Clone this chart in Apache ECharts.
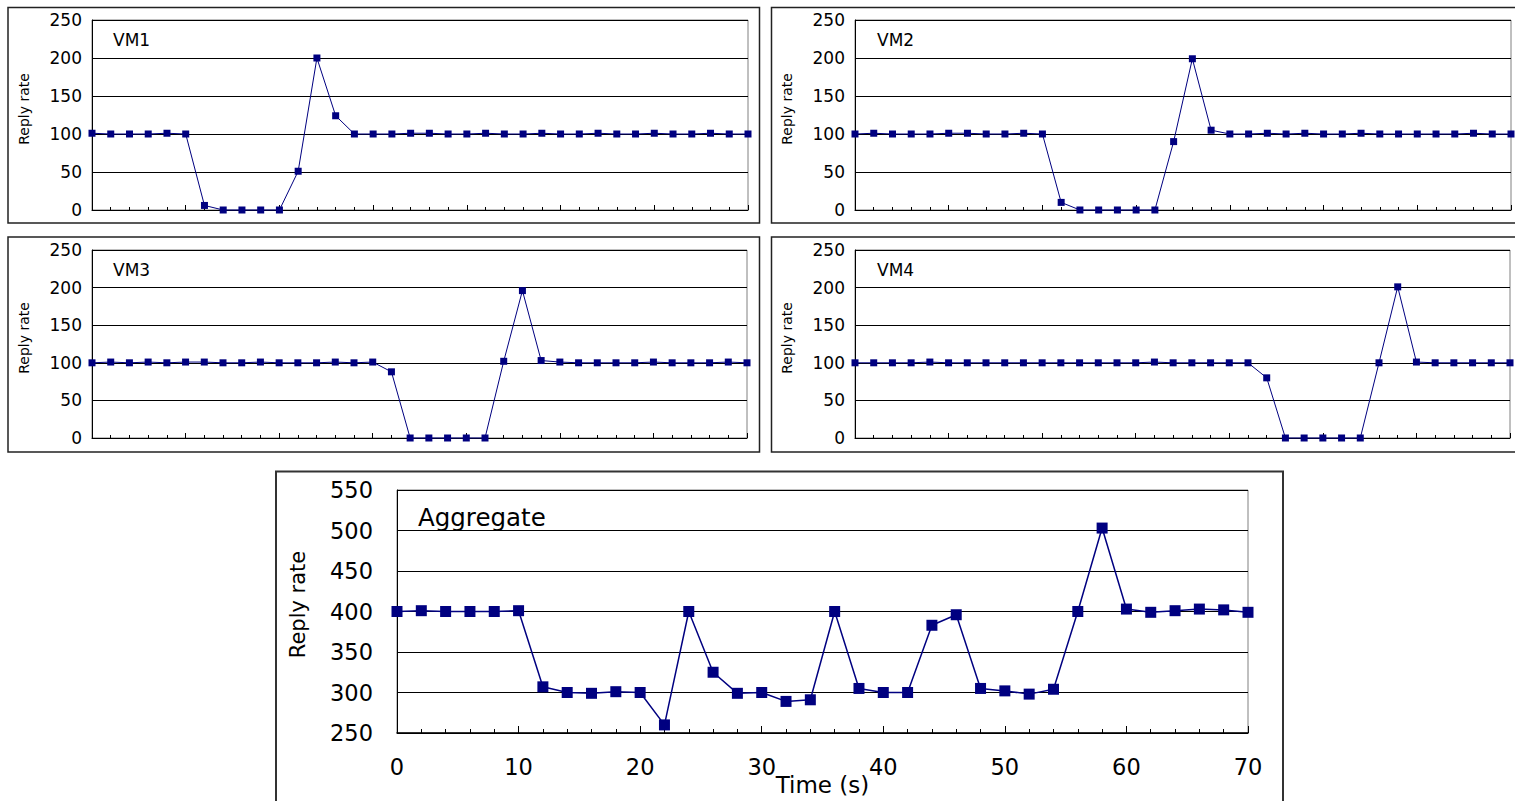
<!DOCTYPE html>
<html>
<head>
<meta charset="utf-8">
<script src="https://cdn.jsdelivr.net/npm/echarts@6/dist/echarts.min.js"></script>
<style>
html,body{margin:0;padding:0;background:#fff;}
#chart{width:1515px;height:801px;}
</style>
</head>
<body>
<div id="chart"></div>
<script>
// ---- data ----
const timeSec = [0,2,4,6,8,10,12,14,16,18,20,22,24,26,28,30,32,34,36,38,40,42,44,46,48,50,52,54,56,58,60,62,64,66,68,70];
const vm1 = [101,100,100,100,101,100,6,0,0,0,0,51,200,124,100,100,100,101,101,100,100,101,100,100,101,100,100,101,100,100,101,100,100,101,100,100];
const vm2 = [100,101,100,100,100,101,101,100,100,101,100,10,0,0,0,0,0,90,199,105,100,100,101,100,101,100,100,101,100,100,100,100,100,101,100,100];
const vm3 = [100,101,100,101,100,101,101,100,100,101,100,100,100,101,100,101,88,0,0,0,0,0,102,196,103,101,100,100,100,100,101,100,100,100,101,100];
const vm4 = [100,100,100,100,101,100,100,100,100,100,100,100,100,100,100,100,101,100,100,100,100,100,80,0,0,0,0,0,100,201,101,100,100,100,100,100];
const aggregate = [400,401,400,400,400,401,307,300,299,301,300,260,400,325,299,300,289,291,400,305,300,300,383,396,305,302,298,304,400,503,403,399,401,403,402,399];
const panelNames = ['VM1','VM2','VM3','VM4'];
const aggregateName = 'Aggregate';
const yAxisTitle = 'Reply rate';
const xAxisTitle = 'Time (s)';
const vmYTicks = [0,50,100,150,200,250];
const aggYTicks = [250,300,350,400,450,500,550];
const xTicks = [0,10,20,30,40,50,60,70];

const chart = echarts.init(document.getElementById('chart'), null, {renderer:'svg'});
const navy = '#000080';
const FONT = 'DejaVu Sans, Verdana, sans-serif';

const vmGrids = [
  {left:92, top:20, width:656, height:190},
  {left:855, top:20, width:656, height:190},
  {left:92, top:250, width:655, height:188},
  {left:855, top:250, width:655, height:188}
];
const aggGrid = {left:397, top:490, width:851, height:243};

const grids = vmGrids.concat([aggGrid]).map(g => Object.assign({show:true, borderColor:'#808080', borderWidth:1, backgroundColor:'transparent', outerBoundsMode:'none'}, g));

const xAxes = [], yAxes = [], series = [];
const vmData = [vm1, vm2, vm3, vm4];
vmData.forEach((arr, i) => {
  xAxes.push({
    type:'value', gridIndex:i, min:xTicks[0], max:xTicks[xTicks.length-1], interval:10,
    axisLine:{show:true, lineStyle:{color:'#000', width:1}},
    axisTick:{show:true, inside:true, length:5, lineStyle:{color:'#000'}},
    minorTick:{show:true, splitNumber:5, length:3, lineStyle:{color:'#000'}},
    axisLabel:{show:false}, splitLine:{show:false}
  });
  yAxes.push({
    type:'value', gridIndex:i, min:vmYTicks[0], max:vmYTicks[vmYTicks.length-1], interval:50,
    name: yAxisTitle, nameLocation:'middle', nameRotate:90, nameGap:61, nameMoveOverlap:false,
    nameTextStyle:{fontFamily:FONT, fontSize:14, color:'#000', padding:[0,0,0,12]},
    axisLine:{show:true, lineStyle:{color:'#000', width:1}},
    axisTick:{show:false},
    axisLabel:{fontFamily:FONT, fontSize:17, color:'#000', margin:10},
    splitLine:{show:true, lineStyle:{color:'#000', width:1}}
  });
  series.push({
    type:'line', xAxisIndex:i, yAxisIndex:i,
    data: timeSec.map((t,k)=>[t, arr[k]]),
    symbol:'rect', symbolSize:7, clip:false,
    lineStyle:{color:navy, width:1}, itemStyle:{color:navy},
    animation:false
  });
});
xAxes.push({
  type:'value', gridIndex:4, min:xTicks[0], max:xTicks[xTicks.length-1], interval:10,
  name: xAxisTitle, nameLocation:'middle', nameGap:40, nameMoveOverlap:false,
  nameTextStyle:{fontFamily:FONT, fontSize:23, color:'#000'},
  axisLine:{show:true, lineStyle:{color:'#000', width:1.5}},
  axisTick:{show:true, inside:true, length:7, lineStyle:{color:'#000'}},
  minorTick:{show:true, splitNumber:5, length:4, lineStyle:{color:'#000'}},
  axisLabel:{fontFamily:FONT, fontSize:22.5, color:'#000', margin:22},
  splitLine:{show:false}
});
yAxes.push({
  type:'value', gridIndex:4, min:aggYTicks[0], max:aggYTicks[aggYTicks.length-1], interval:50,
  name: yAxisTitle, nameLocation:'middle', nameRotate:90, nameGap:89, nameMoveOverlap:false,
  nameTextStyle:{fontFamily:FONT, fontSize:21, color:'#000', padding:[0,0,0,14]},
  axisLine:{show:true, lineStyle:{color:'#000', width:1}},
  axisTick:{show:false},
  axisLabel:{fontFamily:FONT, fontSize:22.5, color:'#000', margin:24},
  splitLine:{show:true, lineStyle:{color:'#000', width:1}}
});
series.push({
  type:'line', xAxisIndex:4, yAxisIndex:4,
  data: timeSec.map((t,k)=>[t, aggregate[k]]),
  symbol:'rect', symbolSize:11, clip:false,
  lineStyle:{color:navy, width:1.5}, itemStyle:{color:navy},
  animation:false
});

const titlePos = [[113,31],[877,31],[113,261],[877,261]];
const titles = panelNames.map((n,i)=>({text:n, left:titlePos[i][0], top:titlePos[i][1], padding:0, textStyle:{fontFamily:FONT, fontSize:17, fontWeight:'normal', color:'#000'}}));
titles.push({text:aggregateName, left:418, top:505, padding:0, textStyle:{fontFamily:FONT, fontSize:24.5, fontWeight:'normal', color:'#000'}});

const boxStyle = {fill:'none', stroke:'#222', lineWidth:1.5};
const graphic = [
  {type:'rect', shape:{x:8, y:7.5, width:751.5, height:215.5}, style:boxStyle, silent:true},
  {type:'rect', shape:{x:771.5, y:7.5, width:760, height:215.5}, style:boxStyle, silent:true},
  {type:'rect', shape:{x:8, y:237, width:751.5, height:215}, style:boxStyle, silent:true},
  {type:'rect', shape:{x:771.5, y:237, width:760, height:215}, style:boxStyle, silent:true},
  {type:'rect', shape:{x:276, y:471.5, width:1007, height:340}, style:{fill:'none', stroke:'#333', lineWidth:2}, silent:true}
];

chart.setOption({
  animation:false,
  backgroundColor:'#fff',
  title: titles,
  grid: grids,
  xAxis: xAxes,
  yAxis: yAxes,
  series: series,
  graphic: graphic
});
</script>
</body>
</html>
